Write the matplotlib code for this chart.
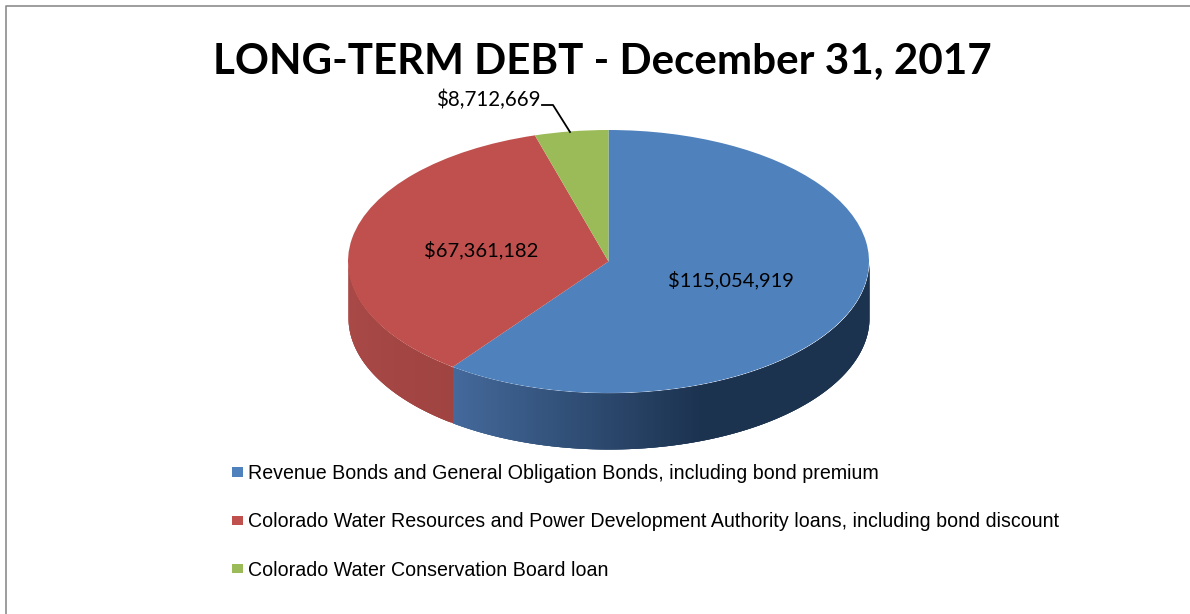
import numpy as np
import matplotlib
matplotlib.use("Agg")
import matplotlib.pyplot as plt
from matplotlib.colors import to_rgb
from matplotlib.lines import Line2D

names = ["Revenue Bonds and General Obligation Bonds, including bond premium",
         "Colorado Water Resources and Power Development Authority loans, including bond discount",
         "Colorado Water Conservation Board loan"]
values = [115054919, 67361182, 8712669]
value_labels = ["$115,054,919", "$67,361,182", "$8,712,669"]
colors = ["#4f81bd", "#c0504d", "#9bbb59"]

W, H = 1190, 614
CX, CY, RX, RY = 608.5, 261.5, 260.5, 131.5
DEPTH = 56 / RY


def px(x, y):
    # pixel position in the picture -> pie coordinates
    return (x - CX) / RX, (CY - y) / RY


def mix(c1, c2, t):
    a, b = np.array(to_rgb(c1)), np.array(to_rgb(c2))
    return tuple(a + (b - a) * t)


fig = plt.figure(figsize=(W / 100, H / 100), dpi=100, facecolor="white")
ax = fig.add_axes([0, 0, 1, 1])

wedges, _ = ax.pie(values, colors=colors, startangle=90, counterclock=False,
                   radius=1, wedgeprops={"linewidth": 0, "zorder": 5})
ax.set_aspect("auto")
ax.set_xlim(px(0, 0)[0], px(W, 0)[0])
ax.set_ylim(px(0, H)[1], px(0, 0)[1])

# side of the pie, only the part facing the viewer
edge = np.cumsum(values) / np.sum(values) * 360
side_spans = [(90, edge[0], "#44699b", "#1c3350"), (edge[0], 270, "#a04441", "#aa4a48")]
for start, stop, c1, c2 in side_spans:
    steps = np.linspace(start, stop, int((stop - start) * 1.5) + 2)
    step = steps[1] - steps[0]
    # each strip overlaps the next so no seams show
    for a, b in zip(steps[:-1], steps[1:]):
        t = np.linspace(a, min(b + 2 * step, stop), 6)
        x = np.sin(np.radians(t))
        y = np.cos(np.radians(t))
        mid = np.sin(np.radians((a + b) / 2))
        # gradient runs left to right over the blue part and stops at about x=0.35
        if start == 90:
            col = mix(c2, c1, np.clip((0.35 - mid) / 0.95, 0, 1))
        else:
            col = mix(c1, c2, (b - start) / (stop - start))
        ax.fill_between(x, y, y - DEPTH, color=col, linewidth=0, zorder=2)

ax.text(*px(602, 58), "LONG-TERM DEBT - December 31, 2017", fontsize=30.3,
        fontfamily="Lato", fontweight="bold", ha="center", va="center_baseline", color="black")

ax.text(*px(731, 280), value_labels[0], fontsize=14.5, fontfamily="Lato",
        ha="center", va="center", color="black", zorder=6)
ax.text(*px(481, 250), value_labels[1], fontsize=14.5, fontfamily="Lato",
        ha="center", va="center", color="black", zorder=6)
ax.text(*px(488.5, 100), value_labels[2], fontsize=14.8, fontfamily="Lato",
        ha="center", va="center", color="black", zorder=6)
leader = np.array([px(542, 105), px(553, 105), px(570, 132)])
ax.plot(leader[:, 0], leader[:, 1], color="black", linewidth=1.3, zorder=6)

fig.legend(wedges, names, loc="upper left", bbox_to_anchor=(232 / W, 1 - 464 / H),
           frameon=False, handlelength=0.56, handleheight=0.36,
           handletextpad=0.26, labelspacing=1.5, borderpad=0, borderaxespad=0,
           prop={"family": "Liberation Sans", "size": 14.1})

# thin frame, only top and left are inside the picture
fig.add_artist(Line2D([6 / W, 6 / W, 1], [0, 1 - 5.5 / H, 1 - 5.5 / H],
                      color="#8c8c8c", linewidth=1.2, transform=fig.transFigure))

fig.savefig("out.png", dpi=100)
